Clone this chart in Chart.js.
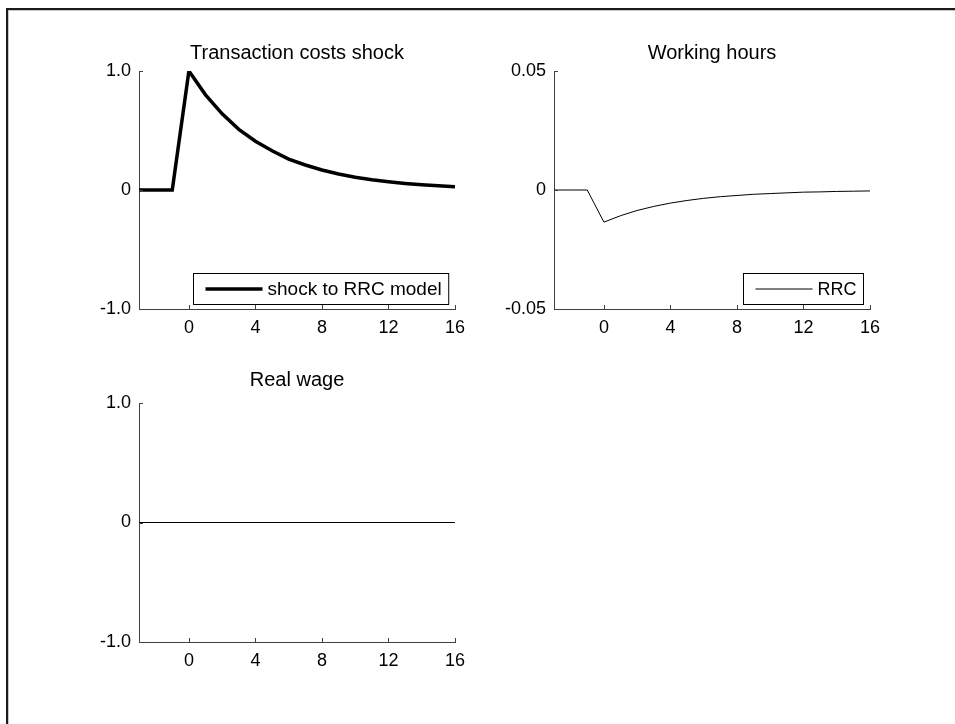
<!DOCTYPE html>
<html>
<head>
<meta charset="utf-8">
<script src="https://cdn.jsdelivr.net/npm/chart.js@4/dist/chart.umd.min.js"></script>
<style>
  html, body { margin: 0; padding: 0; background: #fff; }
  body { width: 955px; height: 724px; position: relative; overflow: hidden; }
  .frame { position: absolute; left: 6px; top: 8px; right: -10px; bottom: -10px;
           border-top: 2px solid #1a1a1a; border-left: 2px solid #1a1a1a; }
  .frame-inner { position: absolute; left: 8px; top: 10px; right: -10px; bottom: -10px;
           border-top: 1px solid #c8c8c8; border-left: 1px solid #c8c8c8; }
  .panel { position: absolute; }
</style>
</head>
<body>
<div class="frame"></div>
<div class="frame-inner"></div>
<div class="panel" style="left:89px; top:30px; width:391px; height:319px;"><canvas id="shockChart"></canvas></div>
<div class="panel" style="left:504px; top:30px; width:391px; height:319px;"><canvas id="hoursChart"></canvas></div>
<div class="panel" style="left:89px; top:362px; width:391px; height:320px;"><canvas id="wageChart"></canvas></div>
<script>
// periods (quarters) and impulse responses
const periods = [-3, -2, -1, 0, 1, 2, 3, 4, 5, 6, 7, 8, 9, 10, 11, 12, 13, 14, 15, 16];
const shockRRC = [0, 0, 0, 1.0, 0.80, 0.64, 0.51, 0.41, 0.33, 0.26, 0.21, 0.168, 0.134, 0.107, 0.086, 0.069, 0.055, 0.044, 0.035, 0.028];
const hoursRRC = [0, 0, 0, -0.0135, -0.0108, -0.0086, -0.0069, -0.0055, -0.0044, -0.0035, -0.0028, -0.0023, -0.0018, -0.0015, -0.0012, -0.0009, -0.0008, -0.0006, -0.0005, -0.0004];
const wageRRC = [0, 0, 0, 0, 0, 0, 0, 0, 0, 0, 0, 0, 0, 0, 0, 0, 0, 0, 0, 0];

const xTicks = [0, 4, 8, 12, 16];
const unitTicks = [-1, 0, 1];
const unitTickLabels = ['-1.0', '0', '1.0'];
const hoursTicks = [-0.05, 0, 0.05];
const hoursTickLabels = ['-0.05', '0', '0.05'];

const FONT = '"Liberation Sans", Arial, Helvetica, sans-serif';
const AXIS = '#404040';

Chart.defaults.font.family = FONT;
Chart.defaults.color = '#000';
Chart.defaults.animation = false;

// small tick marks pointing into the plot, like the original
const inwardTicks = {
    id: 'inwardTicks',
    afterDatasetsDraw(chart) {
        const { ctx, chartArea, scales } = chart;
        ctx.save();
        ctx.strokeStyle = AXIS;
        ctx.lineWidth = 1;
        ctx.beginPath();
        scales.x.ticks.forEach(t => {
            const px = Math.round(scales.x.getPixelForValue(t.value)) + 0.5;
            ctx.moveTo(px, chartArea.bottom);
            ctx.lineTo(px, chartArea.bottom - 4);
        });
        scales.y.ticks.forEach(t => {
            const py = Math.round(scales.y.getPixelForValue(t.value)) + 0.5;
            ctx.moveTo(chartArea.left, py);
            ctx.lineTo(chartArea.left + 4, py);
        });
        ctx.stroke();
        ctx.restore();
    }
};

// legend box in the lower right corner of the plot
const insideLegend = {
    id: 'insideLegend',
    afterDraw(chart, args, opts) {
        if (!opts.display) return;
        const { ctx, chartArea } = chart;
        const ds = chart.data.datasets[0];
        ctx.save();
        ctx.font = opts.fontSize + 'px ' + FONT;
        const textW = ctx.measureText(ds.label).width;
        const lineLen = 57, padL = 12, gap = 5, padR = 7, h = 31;
        const w = padL + lineLen + gap + textW + padR;
        const right = chartArea.right - 7;
        const bottom = chartArea.bottom - 5;
        const left = Math.round(right - w) + 0.5;
        const top = Math.round(bottom - h) + 0.5;
        ctx.fillStyle = '#fff';
        ctx.fillRect(left, top, w, h);
        ctx.strokeStyle = '#000';
        ctx.lineWidth = 1;
        ctx.strokeRect(left, top, w, h);
        const cy = top + h / 2;
        ctx.strokeStyle = ds.borderColor;
        ctx.lineWidth = ds.borderWidth;
        ctx.beginPath();
        ctx.moveTo(left + padL, cy);
        ctx.lineTo(left + padL + lineLen, cy);
        ctx.stroke();
        ctx.fillStyle = '#000';
        ctx.textBaseline = 'middle';
        ctx.fillText(ds.label, left + padL + lineLen + gap, cy + 1);
        ctx.restore();
    }
};

function makePanel(id, title, titlePad, label, values, width, yTicks, yLabels, yMin, yMax, legendSize) {
    new Chart(document.getElementById(id), {
        type: 'line',
        data: {
            datasets: [{
                label: label,
                data: periods.map((p, i) => ({ x: p, y: values[i] })),
                borderColor: '#000',
                borderWidth: width,
                pointRadius: 0,
                tension: 0,
                fill: false
            }]
        },
        options: {
            responsive: true,
            maintainAspectRatio: false,
            layout: { padding: { left: 0, right: 25, top: 0, bottom: 0 } },
            plugins: {
                legend: { display: false },
                tooltip: { enabled: false },
                title: {
                    display: true,
                    fullSize: false,
                    text: title,
                    color: '#000',
                    font: { size: 20, weight: 'normal', family: FONT },
                    padding: titlePad
                },
                insideLegend: { display: legendSize > 0, fontSize: legendSize }
            },
            scales: {
                x: {
                    type: 'linear',
                    min: -3,
                    max: 16,
                    afterBuildTicks: s => { s.ticks = xTicks.map(v => ({ value: v })); },
                    afterFit: s => { s.height = 40; },
                    ticks: {
                        color: '#000',
                        font: { size: 18 },
                        padding: 8,
                        maxRotation: 0,
                        callback: v => String(v)
                    },
                    grid: { display: false, drawTicks: false },
                    border: { display: true, color: AXIS, width: 1 }
                },
                y: {
                    min: yMin,
                    max: yMax,
                    afterBuildTicks: s => { s.ticks = yTicks.map(v => ({ value: v })); },
                    afterFit: s => { s.width = 50; },
                    ticks: {
                        color: '#000',
                        font: { size: 18 },
                        padding: 8,
                        callback: v => yLabels[yTicks.indexOf(v)]
                    },
                    grid: { display: false, drawTicks: false },
                    border: { display: true, color: AXIS, width: 1 }
                }
            }
        },
        plugins: [inwardTicks, insideLegend]
    });
}

makePanel('shockChart', 'Transaction costs shock', { top: 11, bottom: 6 }, 'shock to RRC model', shockRRC, 3.5,
    unitTicks, unitTickLabels, -1, 1, 19);
makePanel('hoursChart', 'Working hours', { top: 11, bottom: 6 }, 'RRC', hoursRRC, 1,
    hoursTicks, hoursTickLabels, -0.05, 0.05, 18);
makePanel('wageChart', 'Real wage', { top: 6, bottom: 11 }, 'RRC', wageRRC, 1.2,
    unitTicks, unitTickLabels, -1, 1, 0);
</script>
</body>
</html>
